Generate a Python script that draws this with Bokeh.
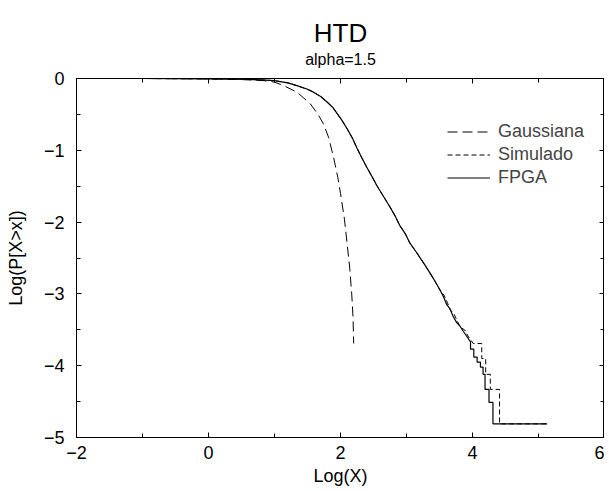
from bokeh.plotting import figure
from bokeh.models import FixedTicker, LinearAxis, Legend, LegendItem, Range1d
from bokeh.embed import file_html
from bokeh.resources import INLINE

FONT = "Liberation Sans"

# Gaussian reference distribution
gauss_x = [-2.0, -1.0, 0.0, 0.5, 0.84, 1.0, 1.14, 1.34, 1.54, 1.66, 1.74, 1.82, 1.90, 1.96, 2.00, 2.06, 2.10, 2.14, 2.17, 2.19, 2.20]
gauss_y = [0.0, 0.0, -0.005, -0.015, -0.03, -0.05, -0.10, -0.19, -0.35, -0.50, -0.63, -0.82, -1.12, -1.38, -1.60, -1.96, -2.30, -2.64, -3.00, -3.33, -3.69]

# FPGA output
fpga_x = [-2.0, -1.0, 0.0, 0.5, 0.8, 1.0, 1.2, 1.34, 1.5, 1.59, 1.7, 1.80, 1.88, 1.95, 2.02, 2.10, 2.18, 2.25, 2.32, 2.40,
          2.48, 2.55, 2.65, 2.75, 2.83, 2.90, 2.98, 3.05, 3.15, 3.28, 3.35, 3.41, 3.51, 3.56, 3.61, 3.66, 3.70, 3.76,
          3.81, 3.86, 3.92, 3.97, 3.97, 4.02, 4.02, 4.07, 4.07, 4.12, 4.12, 4.16, 4.16, 4.19, 4.19, 4.25, 4.25,
          4.31, 4.31, 5.13]
fpga_y = [0.0, 0.0, -0.005, -0.01, -0.02, -0.03, -0.06, -0.10, -0.15, -0.19, -0.25, -0.33, -0.40, -0.49, -0.58, -0.70,
          -0.83, -0.97, -1.10, -1.24, -1.37, -1.49, -1.64, -1.79, -1.92, -2.05, -2.16, -2.29, -2.42, -2.60, -2.70,
          -2.79, -2.95, -3.04, -3.15, -3.21, -3.30, -3.40, -3.45, -3.52, -3.60, -3.67, -3.77, -3.77, -3.88, -3.88,
          -3.95, -3.95, -4.02, -4.02, -4.12, -4.12, -4.33, -4.33, -4.51, -4.51, -4.81, -4.81]

# Simulated output
sim_x = [-2.0, -1.0, 0.0, 0.5, 0.8, 1.0, 1.2, 1.34, 1.5, 1.59, 1.7, 1.80, 1.88, 1.95, 2.02, 2.10, 2.18, 2.25, 2.32, 2.40,
         2.48, 2.55, 2.65, 2.75, 2.83, 2.90, 2.98, 3.05, 3.15, 3.28, 3.35, 3.41, 3.51, 3.57, 3.62, 3.66, 3.72, 3.77,
         3.82, 3.88, 3.94, 4.01, 4.14, 4.14, 4.20, 4.20, 4.27, 4.27, 4.41, 4.41, 5.13]
sim_y = [0.0, 0.0, -0.005, -0.01, -0.02, -0.03, -0.06, -0.10, -0.15, -0.19, -0.25, -0.33, -0.40, -0.49, -0.58, -0.70,
         -0.83, -0.97, -1.10, -1.24, -1.37, -1.49, -1.64, -1.79, -1.92, -2.05, -2.16, -2.29, -2.42, -2.60, -2.70,
         -2.79, -2.95, -3.02, -3.12, -3.22, -3.28, -3.38, -3.47, -3.50, -3.60, -3.69, -3.69, -3.90, -3.90, -4.12,
         -4.12, -4.33, -4.33, -4.81, -4.81]

x_ticks = [-2, 0, 2, 4, 6]
x_minor = [-1, 1, 3, 5]
y_ticks = [0, -1, -2, -3, -4, -5]
y_minor = [-0.5, -1.5, -2.5, -3.5, -4.5]

FW, FH = 528, 359
p = figure(frame_width=FW, frame_height=FH, x_range=Range1d(-2, 6), y_range=Range1d(-5, 0),
           output_backend="svg", toolbar_location=None, title="HTD",
           min_border_left=76, min_border_right=0, min_border_top=78, min_border_bottom=0)
p.title.text_font = FONT
p.title.text_font_size = "26px"
p.title.text_font_style = "normal"
p.title.text_color = "black"
p.title.align = "center"
p.title.standoff = 0
p.xgrid.visible = False
p.ygrid.visible = False
p.outline_line_color = "black"
p.outline_line_width = 1

def style_axis(ax, ticks, minor, labels=True):
    ax.ticker = FixedTicker(ticks=ticks, minor_ticks=minor)
    ax.major_tick_in = 5
    ax.major_tick_out = 0
    ax.minor_tick_in = 4
    ax.minor_tick_out = 0
    ax.axis_line_color = "black"
    ax.major_tick_line_color = "black"
    ax.minor_tick_line_color = "black"
    if labels:
        ax.major_label_text_font = FONT
        ax.major_label_text_font_size = "18px"
        ax.major_label_text_color = "black"
        ax.major_label_overrides = {t: (str(t).replace("-", "\u2212")) for t in ticks}
    else:
        ax.major_label_text_color = None
        ax.major_label_text_font_size = "1px"
        ax.major_label_standoff = 0

style_axis(p.xaxis[0], x_ticks, x_minor)
style_axis(p.yaxis[0], y_ticks, y_minor)
p.xaxis[0].axis_label = "Log(X)"
p.yaxis[0].axis_label = "Log(P[X>x])"
for ax in (p.xaxis[0], p.yaxis[0]):
    ax.axis_label_text_font = FONT
    ax.axis_label_text_font_size = "18px"
    ax.axis_label_text_font_style = "normal"
    ax.axis_label_text_color = "black"
p.xaxis[0].major_label_standoff = 8
p.xaxis[0].axis_label_standoff = 4
p.yaxis[0].major_label_standoff = 12
p.yaxis[0].axis_label_standoff = 15

# top axis: mirrored ticks, carries the sub-title "alpha=1.5"
top = LinearAxis()
style_axis(top, x_ticks, x_minor, labels=False)
top.axis_label = "alpha=1.5"
top.axis_label_text_font = FONT
top.axis_label_text_font_size = "16px"
top.axis_label_text_font_style = "normal"
top.axis_label_text_color = "black"
top.axis_label_standoff = 11
p.add_layout(top, "above")
right = LinearAxis()
style_axis(right, y_ticks, y_minor, labels=False)
p.add_layout(right, "right")

r_g = p.line(gauss_x, gauss_y, line_color="black", line_width=1, line_dash="10 5")
r_s = p.line(sim_x, sim_y, line_color="black", line_width=1, line_dash="5 3")
r_f = p.line(fpga_x, fpga_y, line_color="black", line_width=1.2)

legend = Legend(items=[LegendItem(label="Gaussiana", renderers=[r_g]),
                       LegendItem(label="Simulado", renderers=[r_s]),
                       LegendItem(label="FPGA", renderers=[r_f])],
                location=(371, 249), border_line_color=None, background_fill_alpha=0,
                padding=0, margin=0, spacing=2, label_height=21, glyph_height=21, glyph_width=43,
                label_standoff=8, label_text_font=FONT, label_text_font_size="18px")
p.add_layout(legend)

open("out.html", "w").write(file_html(p, INLINE))
